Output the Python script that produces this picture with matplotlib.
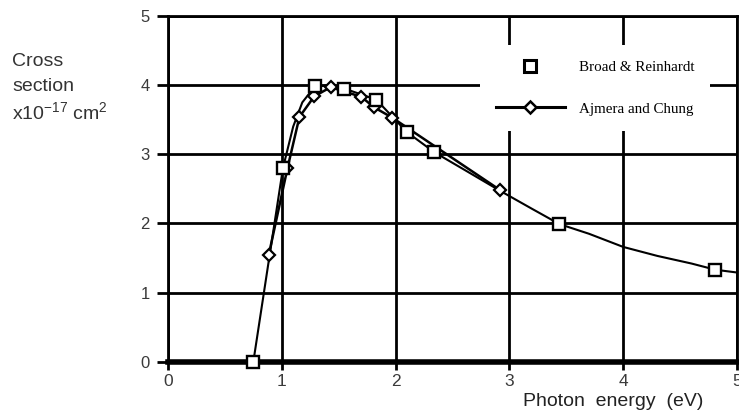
import matplotlib
matplotlib.use("Agg")
import matplotlib.pyplot as plt
from matplotlib.lines import Line2D

plt.rcParams["font.family"] = ["Liberation Sans", "DejaVu Sans"]
plt.rcParams["mathtext.fontset"] = "custom"
plt.rcParams["mathtext.rm"] = "Liberation Sans"
plt.rcParams["mathtext.default"] = "regular"

# Broad & Reinhardt: marked points and the smooth curve through them
br_x = [0.75, 1.01, 1.29, 1.55, 1.83, 2.10, 2.34, 3.44, 4.81]
br_y = [0.0, 2.80, 3.99, 3.95, 3.79, 3.32, 3.03, 1.99, 1.33]
br_curve_x = [0.75, 1.01, 1.10, 1.18, 1.29, 1.42, 1.55, 1.83, 2.10, 2.34,
              2.60, 2.92, 3.20, 3.44, 3.70, 4.00, 4.30, 4.60, 4.81, 5.00]
br_curve_y = [0.0, 2.80, 3.40, 3.75, 3.98, 4.00, 3.95, 3.79, 3.32, 3.03,
              2.78, 2.47, 2.21, 1.99, 1.85, 1.66, 1.53, 1.42, 1.33, 1.29]

# Ajmera and Chung
ac_x = [0.886, 1.05, 1.155, 1.286, 1.43, 1.70, 1.81, 1.97, 2.92]
ac_y = [1.55, 2.80, 3.54, 3.84, 3.97, 3.83, 3.68, 3.53, 2.48]

ticks = [0, 1, 2, 3, 4, 5]
label_color = "#3a3a3a"

fig = plt.figure(figsize=(7.39, 4.19), dpi=100)
ax = fig.add_axes([168 / 739, (419 - 361.7) / 419, 569 / 739, 345.7 / 419])

ax.set_xlim(0, 5)
ax.set_ylim(0, 5)
ax.set_xticks(ticks)
ax.set_yticks(ticks)
ax.grid(True, color="black", linewidth=2.0)
ax.set_axisbelow(True)

for side in ["left", "top", "right"]:
    ax.spines[side].set_linewidth(2.0)
ax.spines["bottom"].set_linewidth(4.0)
ax.spines["bottom"].set_zorder(2.6)

ax.tick_params(axis="y", direction="out", length=8, width=2, pad=5,
               labelsize=12, labelcolor=label_color)
ax.tick_params(axis="x", direction="out", length=6, width=2, pad=3,
               labelsize=12.5, labelcolor=label_color)

ax.plot(br_curve_x, br_curve_y, color="black", linewidth=1.5, zorder=3,
        clip_on=False)
ax.plot(ac_x, ac_y, color="black", linewidth=1.8, marker="D", markersize=6,
        markerfacecolor="white", markeredgecolor="black", markeredgewidth=1.6,
        zorder=4)
ax.plot(br_x, br_y, linestyle="none", marker="s", markersize=8.5,
        markerfacecolor="white", markeredgecolor="black", markeredgewidth=1.7,
        zorder=5, clip_on=False)

handles = [
    Line2D([0], [0], linestyle="none", marker="s", markersize=8,
           markerfacecolor="white", markeredgecolor="black",
           markeredgewidth=2.2, label="Broad & Reinhardt"),
    Line2D([0], [0], color="black", linewidth=2.2, marker="D", markersize=6,
           markerfacecolor="white", markeredgecolor="black",
           markeredgewidth=1.8, label="Ajmera and Chung"),
]
leg = ax.legend(handles=handles, loc="upper left", bbox_to_anchor=(0.548, 0.916),
                borderaxespad=0, frameon=True, fancybox=False, facecolor="white",
                edgecolor="none", framealpha=1, borderpad=1.05,
                handlelength=4.6, handletextpad=0.95, labelspacing=1.85,
                prop={"family": "Liberation Serif", "size": 10.8})
leg.set_zorder(6)

fig.text(12 / 739, 1 - 61 / 419, "Cross", fontsize=14, color="#333333",
         va="center", ha="left")
fig.text(12 / 739, 1 - 86 / 419, "section", fontsize=14, color="#333333",
         va="center", ha="left")
fig.text(12 / 739, 1 - 112 / 419, r"x10$^{-17}$ cm$^{2}$", fontsize=14,
         color="#333333", va="center", ha="left")
fig.text(703 / 739, 1 - 401 / 419, "Photon  energy  (eV)", fontsize=14,
         color="#222222", va="center", ha="right")

plt.savefig("out.png", dpi=100, facecolor="white")
